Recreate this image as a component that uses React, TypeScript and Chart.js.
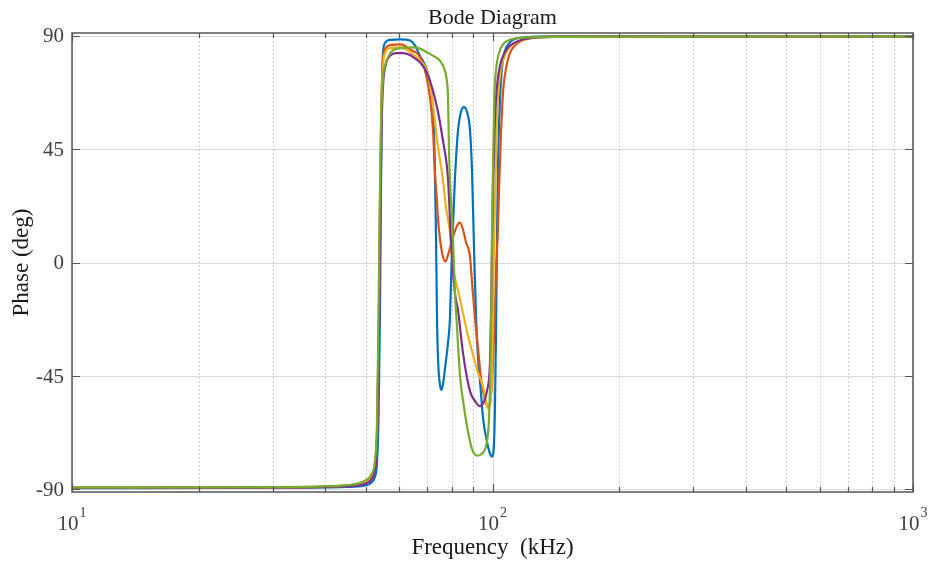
import { useEffect, useRef } from "react";
import { Chart, registerables } from "chart.js";

Chart.register(...registerables);

// ---- axis ticks ----
const freqMajor = [10, 100, 1000];
const freqExponents = ["1", "2", "3"];
const freqMinor = [20, 30, 40, 50, 60, 70, 80, 90, 200, 300, 400, 500, 600, 700, 800, 900];
const phaseTicks = [-90, -45, 0, 45, 90];
const phaseLabels = ["-90", "-45", "0", "45", "90"];

// ---- phase responses (frequency in kHz, phase in degrees) ----
const blueFreq = [10, 30, 45, 50, 51.5, 52.5, 53.1, 53.6, 54.0, 54.3, 54.6, 54.9, 55.5, 57.1, 60.3, 63.7, 65.4, 67.2, 69.9, 71.8, 72.6, 73.0, 73.4, 73.8, 74.2, 74.8, 75.6, 76.3, 77.1, 78.4, 79.2, 80.1, 81.4, 82.8, 84.1, 85.5, 87.0, 88.4, 89.4, 90.4, 91.4, 92.4, 93.4, 95.0, 97.0, 98.5, 99.7, 100.8, 101.4, 101.9, 102.5, 103.1, 104.2, 105.3, 107.1, 110, 113, 120, 140, 300, 1000];
const bluePhase = [-89.5, -89.3, -89, -88.3, -87.3, -85, -80, -60, -20, 30, 70, 83, 87, 88.3, 88.5, 88, 86.1, 82, 76, 65.5, 52.5, 33, 10, -22, -38, -47, -50.5, -48, -42, -31.6, -22.5, 5, 33, 52.5, 59.6, 61.6, 59.6, 52.5, 36, 5, -22, -38, -47, -62, -71, -75.5, -77, -72, -55, -30, 10, 40, 65, 77, 84, 87.3, 88.6, 89.3, 89.7, 89.8, 89.8];

const orangeFreq = [10, 30, 45, 50, 51.5, 52.5, 53.1, 53.6, 54.0, 54.4, 54.9, 55.5, 57.1, 60.3, 63.7, 68.3, 71.0, 72.2, 73.0, 73.8, 74.2, 75.2, 76.2, 77.3, 78.4, 80.5, 82.3, 83.7, 85.1, 86.5, 88.4, 89.4, 90.9, 92.5, 93.9, 95.0, 96.6, 97.6, 98.6, 99.7, 100.8, 101.9, 103.1, 103.6, 104.7, 106, 108, 110, 116, 123, 140, 1000];
const orangePhase = [-89.4, -89.2, -88.7, -87.5, -85.8, -82, -72, -35, 20, 62, 80, 84.5, 86.2, 86.5, 84.5, 79, 65.5, 52.5, 35, 24, 17, 8, 2.4, 0.4, 3, 10, 14.5, 15.8, 13, 8, 2.4, -8, -22.5, -35, -46, -51, -56, -57.5, -56, -48, -30, -5, 15, 28, 50, 68, 78, 83, 87.5, 89, 89.6, 89.7];

const yellowFreq = [10, 30, 40, 45, 48, 50, 51.5, 52.5, 53.1, 53.6, 54.0, 54.4, 54.9, 55.5, 57.1, 60.3, 63.7, 67.2, 69.9, 71.8, 74.2, 76.2, 77.5, 79.2, 80.5, 82.5, 84.6, 87.0, 90.0, 92.5, 94.9, 96.5, 97.6, 98.6, 99.7, 100.3, 100.8, 101.4, 101.9, 102.5, 104.2, 107, 110, 116, 123, 140, 1000];
const yellowPhase = [-89.3, -89.1, -88.9, -88.5, -87.9, -87, -85, -80, -68, -30, 20, 60, 78, 83, 85, 85.3, 83.5, 80, 76, 65.5, 45.8, 33, 22, 12, -1.6, -10, -18, -27.6, -37, -44, -49, -55, -58, -56, -45, -20, 5, 25, 40, 58, 74, 82, 85.5, 87.8, 88.9, 89.5, 89.7];

const purpleFreq = [10, 30, 45, 50, 51.5, 52.5, 53.1, 53.7, 54.1, 54.5, 55.0, 55.5, 56.1, 57.1, 59, 61, 64.7, 69.9, 73.8, 76.2, 78.4, 79.6, 81.4, 82.8, 85.1, 88.4, 90.9, 93.4, 95.5, 97.0, 98.6, 99.2, 99.7, 100.3, 101.4, 102.5, 104.2, 107, 110, 116, 123, 140, 1000];
const purplePhase = [-89.4, -89.2, -88.7, -87.6, -86, -82, -72, -30, 20, 55, 72, 77, 80, 82, 83, 83, 81.5, 75, 61.6, 48.5, 33, 10, -12, -19, -36, -51, -55, -57, -55, -51, -40, -20, 5, 30, 58, 70, 78, 83.5, 86, 88, 89, 89.5, 89.7];

const greenFreq = [10, 30, 40, 45, 48, 50, 51.5, 52.5, 53.1, 53.5, 53.9, 54.3, 54.9, 55.5, 57.1, 60.3, 64.7, 67.2, 69.9, 73.0, 75.0, 77.1, 77.9, 78.4, 78.8, 79.2, 80.1, 80.5, 81.4, 82.3, 83.7, 85.5, 87.0, 89.4, 91.9, 94.4, 97.0, 98.1, 98.6, 99.2, 99.7, 100.3, 101.0, 101.9, 103.6, 105.9, 110, 120, 140, 1000];
const greenPhase = [-89.3, -89.1, -88.8, -88.3, -87.6, -86.3, -84, -79, -65, -30, 20, 55, 73, 78, 83, 85, 85.3, 84.8, 83.3, 81.5, 80, 76, 72, 65, 45, 33, 18, 10, -12, -25, -45, -57, -65, -74, -76.6, -75.8, -71, -62, -50, -25, 10, 40, 65, 76, 83, 86.5, 88.3, 89.2, 89.5, 89.7];

const SERIF = "'Liberation Serif', 'Times New Roman', serif";
const TICK_COLOR = "#404040";

const series = [
  { freq: blueFreq, phase: bluePhase, color: "#0072BD" },
  { freq: orangeFreq, phase: orangePhase, color: "#D95319" },
  { freq: yellowFreq, phase: yellowPhase, color: "#EDB120" },
  { freq: purpleFreq, phase: purplePhase, color: "#7E2F8E" },
  { freq: greenFreq, phase: greenPhase, color: "#77AC30" },
];

// Grid, box, inward tick marks and all text of the Bode phase axes.
const bodeAxes = {
  id: "bodeAxes",
  beforeDatasetsDraw(chart: any) {
    const { ctx, chartArea: a, scales } = chart;
    const xs = scales.x;
    const ys = scales.y;
    ctx.save();
    ctx.lineWidth = 1;
    // dotted minor frequency grid
    ctx.strokeStyle = "rgba(0,0,0,0.25)";
    ctx.setLineDash([1.5, 2.5]);
    for (const f of freqMinor) {
      const px = Math.round(xs.getPixelForValue(f)) + 0.5;
      ctx.beginPath();
      ctx.moveTo(px, a.top);
      ctx.lineTo(px, a.bottom);
      ctx.stroke();
    }
    ctx.setLineDash([]);
    // solid major grid
    ctx.strokeStyle = "rgba(0,0,0,0.15)";
    for (const f of freqMajor) {
      const px = Math.round(xs.getPixelForValue(f)) + 0.5;
      ctx.beginPath();
      ctx.moveTo(px, a.top);
      ctx.lineTo(px, a.bottom);
      ctx.stroke();
    }
    for (const p of phaseTicks) {
      const py = Math.round(ys.getPixelForValue(p)) + 0.5;
      ctx.beginPath();
      ctx.moveTo(a.left, py);
      ctx.lineTo(a.right, py);
      ctx.stroke();
    }
    ctx.restore();
  },
  afterDatasetsDraw(chart: any) {
    const { ctx, chartArea: a, scales } = chart;
    const xs = scales.x;
    const ys = scales.y;
    ctx.save();
    // axes box
    ctx.strokeStyle = "#555555";
    ctx.lineWidth = 1.5;
    ctx.strokeRect(a.left, a.top, a.right - a.left, a.bottom - a.top);

    // inward tick marks on all four sides
    ctx.lineWidth = 1.2;
    const vTick = (px: number, len: number) => {
      ctx.beginPath();
      ctx.moveTo(px, a.bottom);
      ctx.lineTo(px, a.bottom - len);
      ctx.moveTo(px, a.top);
      ctx.lineTo(px, a.top + len);
      ctx.stroke();
    };
    for (const f of freqMajor) vTick(Math.round(xs.getPixelForValue(f)) + 0.5, 8);
    for (const f of freqMinor) vTick(Math.round(xs.getPixelForValue(f)) + 0.5, 5);
    for (const p of phaseTicks) {
      const py = Math.round(ys.getPixelForValue(p)) + 0.5;
      ctx.beginPath();
      ctx.moveTo(a.left, py);
      ctx.lineTo(a.left + 8, py);
      ctx.moveTo(a.right, py);
      ctx.lineTo(a.right - 8, py);
      ctx.stroke();
    }

    // phase tick labels
    ctx.fillStyle = TICK_COLOR;
    ctx.font = `21px ${SERIF}`;
    ctx.textAlign = "right";
    ctx.textBaseline = "middle";
    phaseTicks.forEach((p, i) => {
      ctx.fillText(phaseLabels[i], a.left - 8, ys.getPixelForValue(p) + 1);
    });

    // frequency tick labels: 10 with a raised exponent
    ctx.textBaseline = "alphabetic";
    ctx.textAlign = "left";
    freqMajor.forEach((f, i) => {
      const px = xs.getPixelForValue(f);
      ctx.font = `21px ${SERIF}`;
      const baseW = ctx.measureText("10").width;
      ctx.font = `14px ${SERIF}`;
      const expW = ctx.measureText(freqExponents[i]).width;
      const left = px - (baseW + 1 + expW) / 2;
      ctx.font = `21px ${SERIF}`;
      ctx.fillText("10", left, 530);
      ctx.font = `14px ${SERIF}`;
      ctx.fillText(freqExponents[i], left + baseW + 1, 517);
    });

    // title and axis labels
    const cx = (a.left + a.right) / 2;
    ctx.fillStyle = "#1a1a1a";
    ctx.textAlign = "center";
    ctx.font = `22px ${SERIF}`;
    ctx.fillText("Bode Diagram", cx, 24);
    ctx.font = `23px ${SERIF}`;
    ctx.fillText("Frequency  (kHz)", cx, 554);
    ctx.translate(28, (a.top + a.bottom) / 2);
    ctx.rotate(-Math.PI / 2);
    ctx.fillText("Phase (deg)", 0, 0);
    ctx.restore();
  },
};

export default function App() {
  const canvasRef = useRef<HTMLCanvasElement>(null);

  useEffect(() => {
    const canvas = canvasRef.current;
    if (!canvas) return;
    const chart = new Chart(canvas, {
      type: "line",
      data: {
        datasets: series.map((s, i) => ({
          data: s.freq.map((f, k) => ({ x: f, y: s.phase[k] })),
          borderColor: s.color,
          backgroundColor: s.color,
          borderWidth: 2.2,
          pointRadius: 0,
          fill: false,
          cubicInterpolationMode: "monotone" as const,
          order: series.length - i,
        })),
      },
      options: {
        responsive: false,
        animation: false,
        devicePixelRatio: 1,
        layout: { padding: { left: 0, top: 33, right: 21, bottom: 0 } },
        plugins: {
          legend: { display: false },
          title: { display: false },
          tooltip: { enabled: false },
        },
        scales: {
          x: {
            type: "logarithmic",
            min: 10,
            max: 1000,
            grid: { display: false },
            border: { display: false },
            ticks: { display: false },
            afterFit: (scale: any) => {
              scale.height = 73;
            },
          },
          y: {
            type: "linear",
            min: -91,
            max: 91,
            grid: { display: false },
            border: { display: false },
            ticks: { display: false },
            afterFit: (scale: any) => {
              scale.width = 72;
            },
          },
        },
      },
      plugins: [bodeAxes],
    });
    return () => chart.destroy();
  }, []);

  return (
    <div style={{ position: "fixed", left: 0, top: 0, width: 934, height: 565, background: "#ffffff" }}>
      <canvas ref={canvasRef} width={934} height={565} style={{ display: "block", width: 934, height: 565 }} />
    </div>
  );
}
